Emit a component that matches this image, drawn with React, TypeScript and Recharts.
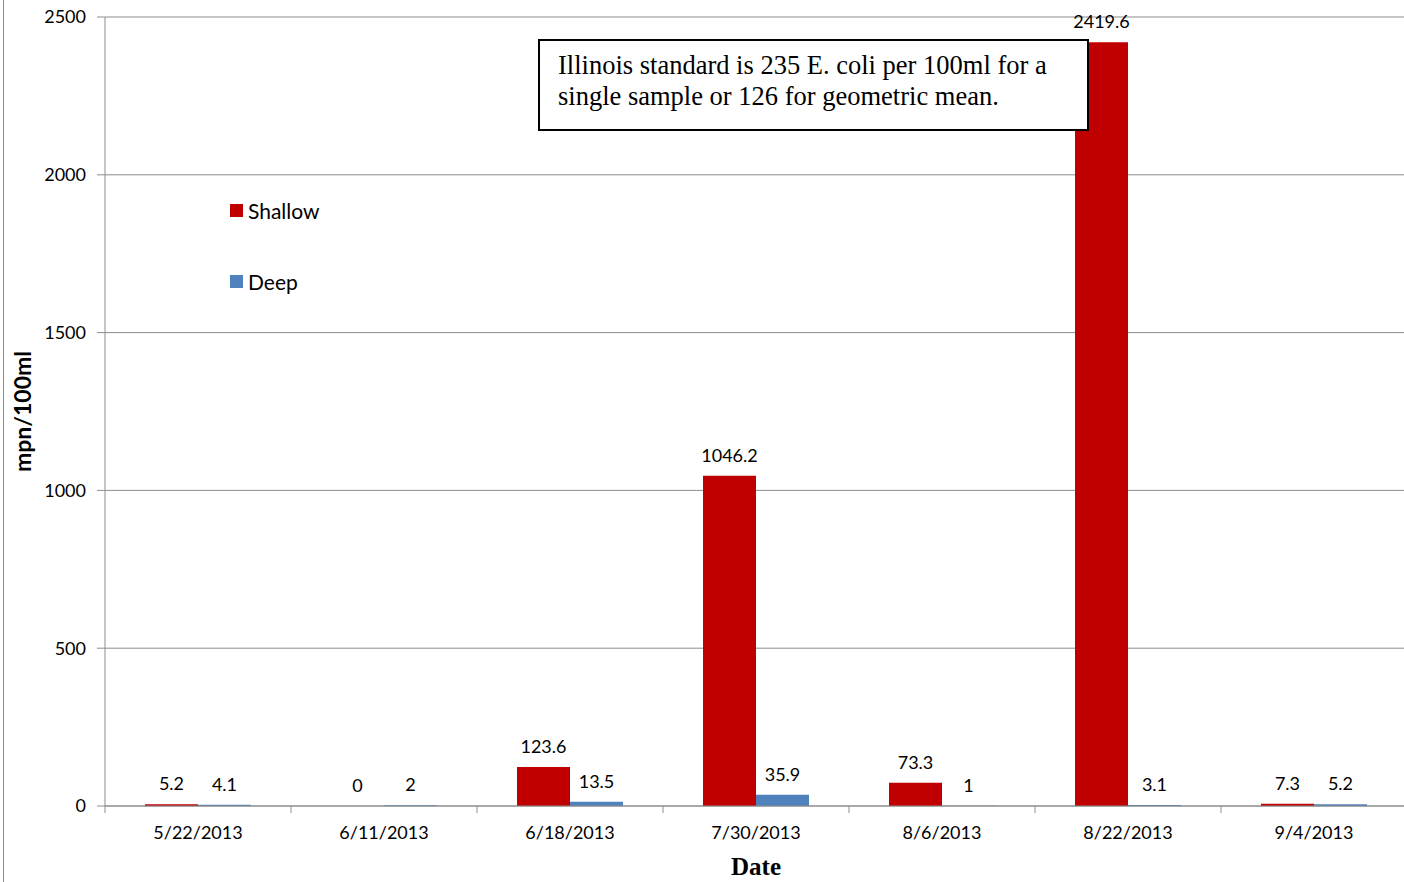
import { Bar, BarChart, CartesianGrid, LabelList, Legend, XAxis, YAxis } from "recharts";

const dates = ["5/22/2013", "6/11/2013", "6/18/2013", "7/30/2013", "8/6/2013", "8/22/2013", "9/4/2013"];
const shallow = [5.2, 0, 123.6, 1046.2, 73.3, 2419.6, 7.3];
const deep = [4.1, 2, 13.5, 35.9, 1, 3.1, 5.2];
const yTicks = [0, 500, 1000, 1500, 2000, 2500];
const seriesNames = ["Shallow", "Deep"];

const data = dates.map((date, i) => ({ date, Shallow: shallow[i], Deep: deep[i] }));

const W = 1410;
const H = 882;
const AXIS_W = 105;
const RIGHT = 3;
const BAND = (W - AXIS_W - RIGHT) / dates.length;
const GRID = "#8c8c8c";
const SANS = "Lato, 'Open Sans', sans-serif";
const SERIF = "'Liberation Serif', 'Times New Roman', serif";
const LABEL_OFF = 14;

function DateTick({ x, y, payload }: any) {
  const bx = x - BAND / 2;
  return (
    <g>
      <line x1={bx} y1={y} x2={bx} y2={y + 7} stroke={GRID} />
      <text x={x} y={y + 33} textAnchor="middle" fontSize={18} fontFamily={SANS} fill="#000">
        {payload.value}
      </text>
    </g>
  );
}

function SideLegend({ payload }: any) {
  const items = seriesNames.map((n) => (payload || []).find((p: any) => p.value === n)).filter(Boolean);
  return (
    <div style={{ fontFamily: SANS, fontSize: 21, color: "#000" }}>
      {items.map((p: any, i: number) => (
        <div key={p.value} style={{ display: "flex", alignItems: "center", height: 24, marginTop: i ? 47 : 0 }}>
          <span style={{ width: 13, height: 13, background: p.color, marginRight: 5, display: "inline-block" }} />
          {p.value}
        </div>
      ))}
    </div>
  );
}

// value label for Deep; also writes the Shallow label when that bar has zero height
// (recharts skips labels of empty bars)
function DeepLabel({ x, y, width, height, index, value }: any) {
  const base = y + height;
  const txt = (cx: number, cy: number, v: any) => (
    <text x={cx} y={cy} textAnchor="middle" fontSize={18} fontFamily={SANS} fill="#000">
      {String(v)}
    </text>
  );
  return (
    <g>
      {txt(x + width / 2, y - LABEL_OFF, value)}
      {shallow[index] === 0 && txt(x - width / 2, base - LABEL_OFF, shallow[index])}
    </g>
  );
}

export default function App() {
  return (
    <div style={{ position: "absolute", left: 0, top: 0, width: 1404, height: H, overflow: "hidden", background: "#fff" }}>
      <div style={{ position: "absolute", left: 3, top: 0, height: H, borderLeft: "1px solid #8a8a8a" }} />
      <BarChart
        width={W}
        height={H}
        data={data}
        margin={{ top: 17, right: RIGHT, bottom: 0, left: 0 }}
        barCategoryGap={40}
        barGap={0}
      >
        <CartesianGrid vertical={false} stroke={GRID} />
        <XAxis
          dataKey="date"
          height={76}
          stroke={GRID}
          tickLine={false}
          tickSize={0}
          tickMargin={0}
          tick={<DateTick />}
          interval={0}
          label={{
            content: ({ viewBox }: any) => (
              <text
                x={viewBox.x + viewBox.width / 2}
                y={viewBox.y + 69}
                textAnchor="middle"
                fontSize={25}
                fontWeight="bold"
                fontFamily={SERIF}
                fill="#000"
              >
                Date
              </text>
            ),
          }}
        />
        <YAxis
          width={AXIS_W}
          domain={[0, 2500]}
          ticks={yTicks}
          interval={0}
          stroke={GRID}
          tickSize={8}
          tickMargin={11}
          tick={{ fill: "#000", fontSize: 18, fontFamily: SANS }}
          label={{
            content: ({ viewBox }: any) => {
              const cx = 31;
              const cy = viewBox.y + viewBox.height / 2;
              return (
                <text
                  x={cx}
                  y={cy}
                  transform={`rotate(-90 ${cx} ${cy})`}
                  textAnchor="middle"
                  fontSize={23}
                  fontWeight="bold"
                  fontFamily={SANS}
                  fill="#000"
                >
                  mpn/100ml
                </text>
              );
            },
          }}
        />
        <Legend
          layout="horizontal"
          verticalAlign="middle"
          align="center"
          content={<SideLegend />}
          wrapperStyle={{ left: 230, top: 198, width: 150 }}
        />
        <Bar dataKey="Shallow" fill="#C00000" isAnimationActive={false}>
          <LabelList dataKey="Shallow" position="top" offset={LABEL_OFF} fill="#000" fontSize={18} fontFamily={SANS} formatter={(v: any) => String(v)} />
        </Bar>
        <Bar dataKey="Deep" fill="#4F81BD" isAnimationActive={false}>
          <LabelList dataKey="Deep" content={<DeepLabel />} />
        </Bar>
      </BarChart>
      <div
        style={{
          position: "absolute",
          left: 538,
          top: 39,
          width: 551,
          height: 92,
          boxSizing: "border-box",
          border: "2px solid #000",
          background: "#fff",
          padding: "9px 18px",
          fontFamily: SERIF,
          fontSize: 26.5,
          lineHeight: "31px",
          color: "#000",
          whiteSpace: "nowrap",
        }}
      >
        Illinois standard is 235 E. coli per 100ml for a
        <br />
        single sample or 126 for geometric mean.
      </div>
    </div>
  );
}
